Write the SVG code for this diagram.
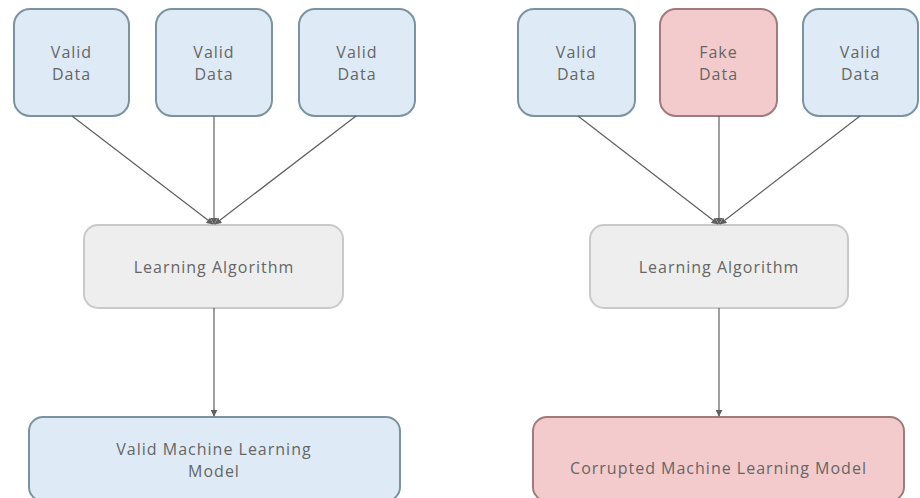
<svg xmlns="http://www.w3.org/2000/svg" width="920" height="498" viewBox="0 0 920 498">
  <style>
    .valid rect { fill: #deeaf6; stroke: #7b939f; stroke-width: 2; }
    .fake rect { fill: #f3cbcc; stroke: #a07a7c; stroke-width: 2; }
    .algo rect { fill: #eeeeee; stroke: #c9c9c9; stroke-width: 2; }
    text { font-family: "Open Sans", "Liberation Sans", sans-serif; font-size: 16px; letter-spacing: 1px; fill: #666666; text-anchor: middle; }
    .edge { stroke: #5f5f5f; stroke-width: 1.2; fill: none; marker-end: url(#arrow); }
  </style>
  <defs>
    <marker id="arrow" viewBox="0 0 10 10" refX="9" refY="5" markerWidth="7" markerHeight="7" markerUnits="userSpaceOnUse" orient="auto">
      <path d="M0,0 L10,5 L0,10 z" fill="#5f5f5f"/>
    </marker>
  </defs>

  <!-- left pipeline: valid data -->
  <g id="l-data-1" class="valid"><rect x="14" y="9" width="115" height="107" rx="16"/><text x="71.5" y="58">Valid</text><text x="71.5" y="80">Data</text></g>
  <g id="l-data-2" class="valid"><rect x="156" y="9" width="116" height="107" rx="16"/><text x="214" y="58">Valid</text><text x="214" y="80">Data</text></g>
  <g id="l-data-3" class="valid"><rect x="299" y="9" width="116" height="107" rx="16"/><text x="357" y="58">Valid</text><text x="357" y="80">Data</text></g>
  <g id="l-algo" class="algo"><rect x="84" y="225" width="259" height="83" rx="14"/><text x="214" y="273">Learning Algorithm</text></g>
  <g id="l-model" class="valid"><rect x="29" y="417" width="371" height="84" rx="14"/><text x="214" y="455">Valid Machine Learning</text><text x="214" y="477">Model</text></g>

  <!-- right pipeline: poisoned data -->
  <g id="r-data-1" class="valid"><rect x="518" y="9" width="117" height="107" rx="16"/><text x="576.5" y="58">Valid</text><text x="576.5" y="80">Data</text></g>
  <g id="r-data-2" class="fake"><rect x="660" y="9" width="117" height="107" rx="16"/><text x="718.5" y="58">Fake</text><text x="718.5" y="80">Data</text></g>
  <g id="r-data-3" class="valid"><rect x="803" y="9" width="115" height="107" rx="16"/><text x="860.5" y="58">Valid</text><text x="860.5" y="80">Data</text></g>
  <g id="r-algo" class="algo"><rect x="590" y="225" width="258" height="83" rx="14"/><text x="719" y="273">Learning Algorithm</text></g>
  <g id="r-model" class="fake"><rect x="533" y="417" width="371" height="84" rx="14"/><text x="718.5" y="474">Corrupted Machine Learning Model</text></g>

  <g id="connectors">
    <path class="edge" d="M72,116 L213,224"/>
    <path class="edge" d="M214,116 L214,224"/>
    <path class="edge" d="M356,116 L215,224"/>
    <path class="edge" d="M214,308 L214,416"/>
    <path class="edge" d="M578,116 L718,224"/>
    <path class="edge" d="M719,116 L719,224"/>
    <path class="edge" d="M860,116 L720,224"/>
    <path class="edge" d="M719,308 L719,416"/>
  </g>
</svg>
